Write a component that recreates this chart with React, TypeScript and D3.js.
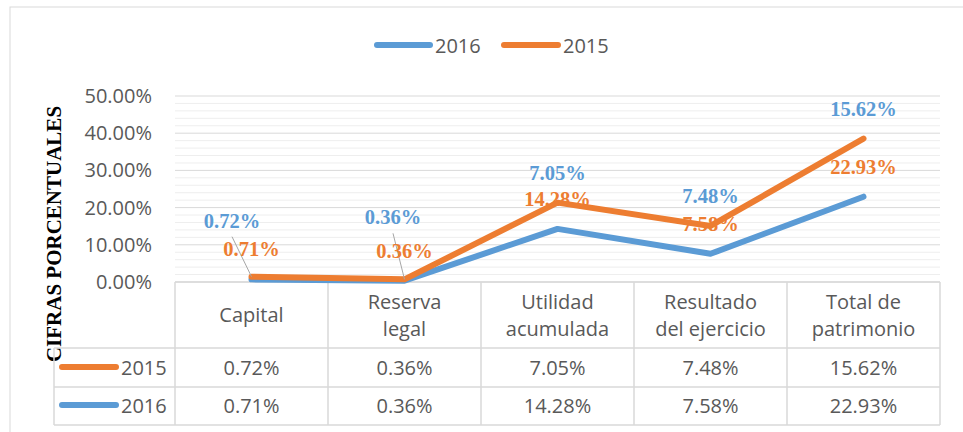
import React from "react";
import * as d3 from "d3";

const categories: string[][] = [
  ["Capital"],
  ["Reserva", "legal"],
  ["Utilidad", "acumulada"],
  ["Resultado", "del ejercicio"],
  ["Total de", "patrimonio"],
];
const values2015 = [0.72, 0.36, 7.05, 7.48, 15.62];
const values2016 = [0.71, 0.36, 14.28, 7.58, 22.93];
const yTicks = [0, 10, 20, 30, 40, 50];
const seriesNames = ["2016", "2015"];

const W = 963;
const H = 432;
const BLUE = "#5B9BD5";
const ORANGE = "#ED7D31";
const TXT = "#595959";
const GRID = "#d9d9d9";
const SANS = "'Open Sans', 'Noto Sans', sans-serif";
const SERIF = "'Liberation Serif', 'Times New Roman', serif";

// manual label nudges for the first two (pulled out with leader lines)
const blueLabelShift = [
  { dx: -19.5, dy: -26 },
  { dx: -11.5, dy: -32 },
  { dx: 0, dy: 0 },
  { dx: 0, dy: 0 },
  { dx: 0, dy: 0 },
];

export default function App() {
  const plotL = 175;
  const plotR = 940;
  const plotT = 96;
  const plotB = 282;
  const x = d3
    .scaleBand<number>()
    .domain(categories.map((_, i) => i))
    .range([plotL, plotR]);
  const y = d3.scaleLinear().domain([0, 50]).range([plotB, plotT]);
  const cx = (i: number) => (x(i) as number) + x.bandwidth() / 2;

  const stacked = values2016.map((v, i) => v + values2015[i]);
  const line = d3
    .line<number>()
    .x((_, i) => cx(i))
    .y((d) => y(d));

  const minorTicks = d3.range(0, 50.001, 2).filter((v) => v % 10 !== 0);

  const headerB = 348;
  const row1B = 387;
  const row2B = 425;
  const legL = 54;

  const fmt = (v: number) => v.toFixed(2) + "%";

  return (
    <svg
      width={W}
      height={H}
      style={{ position: "absolute", left: 0, top: 0, background: "#fff" }}
    >
      <rect x={0} y={0} width={W} height={H} fill="#fff" />
      <rect x={10} y={7} width={W + 20} height={H + 20} fill="#fff" stroke={GRID} strokeWidth={1} />

      {/* top legend */}
      <g fontFamily={SANS} fontSize={20} fill={TXT}>
        <line x1={377} x2={430} y1={45} y2={45} stroke={BLUE} strokeWidth={6} strokeLinecap="round" />
        <text x={435} y={53}>{seriesNames[0]}</text>
        <line x1={504} x2={558} y1={45} y2={45} stroke={ORANGE} strokeWidth={6} strokeLinecap="round" />
        <text x={563} y={53}>{seriesNames[1]}</text>
      </g>

      {/* gridlines */}
      {minorTicks.map((t) => (
        <line key={"m" + t} x1={plotL} x2={plotR} y1={y(t)} y2={y(t)} stroke="#eeeeee" strokeWidth={1} />
      ))}
      {yTicks.map((t) => (
        <line key={"g" + t} x1={plotL} x2={plotR} y1={y(t)} y2={y(t)} stroke={GRID} strokeWidth={1} />
      ))}

      {/* y tick labels */}
      <g fontFamily={SANS} fontSize={20} fill={TXT} textAnchor="end">
        {yTicks.map((t) => (
          <text key={"t" + t} x={152} y={y(t)} dy="0.35em">
            {t.toFixed(2) + "%"}
          </text>
        ))}
      </g>

      {/* axis title */}
      <text
        transform={`translate(61,234) rotate(-90)`}
        textAnchor="middle"
        fontFamily={SERIF}
        fontWeight="bold"
        fontSize={21}
        fill="#000"
      >
        CIFRAS PORCENTUALES
      </text>

      {/* data table grid */}
      <g stroke={GRID} strokeWidth={1.5} fill="none">
        <line x1={plotL} x2={plotR} y1={plotB} y2={plotB} />
        <line x1={legL} x2={plotR} y1={headerB} y2={headerB} />
        <line x1={legL} x2={plotR} y1={row1B} y2={row1B} />
        <line x1={legL} x2={plotR} y1={row2B} y2={row2B} />
        <line x1={legL} x2={legL} y1={headerB} y2={row2B} />
        {categories.map((_, i) => (
          <line key={"v" + i} x1={x(i) as number} x2={x(i) as number} y1={plotB} y2={row2B} />
        ))}
        <line x1={plotR} x2={plotR} y1={plotB} y2={row2B} />
      </g>

      {/* table text */}
      <g fontFamily={SANS} fontSize={20} fill={TXT} textAnchor="middle">
        {categories.map((c, i) => {
          const mid = (plotB + headerB) / 2;
          const lh = 27;
          const start = mid - ((c.length - 1) * lh) / 2;
          return (
            <text key={"c" + i} x={cx(i)} y={start} dy="0.35em">
              {c.map((s, j) => (
                <tspan key={j} x={cx(i)} y={start + j * lh} dy="0.35em">
                  {s}
                </tspan>
              ))}
            </text>
          );
        })}
        {values2015.map((v, i) => (
          <text key={"a" + i} x={cx(i)} y={(headerB + row1B) / 2} dy="0.35em">
            {fmt(v)}
          </text>
        ))}
        {values2016.map((v, i) => (
          <text key={"b" + i} x={cx(i)} y={(row1B + row2B) / 2} dy="0.35em">
            {fmt(v)}
          </text>
        ))}
      </g>
      <g fontFamily={SANS} fontSize={20} fill={TXT}>
        <line x1={62} x2={116} y1={367} y2={367} stroke={ORANGE} strokeWidth={6} strokeLinecap="round" />
        <text x={121} y={(headerB + row1B) / 2} dy="0.35em">{seriesNames[1]}</text>
        <line x1={62} x2={116} y1={405} y2={405} stroke={BLUE} strokeWidth={6} strokeLinecap="round" />
        <text x={121} y={(row1B + row2B) / 2} dy="0.35em">{seriesNames[0]}</text>
      </g>

      {/* lines */}
      <path d={line(values2016) as string} fill="none" stroke={BLUE} strokeWidth={6} strokeLinecap="round" strokeLinejoin="round" />
      <path d={line(stacked) as string} fill="none" stroke={ORANGE} strokeWidth={6} strokeLinecap="round" strokeLinejoin="round" />

      {/* leader lines */}
      {stacked.map((v, i) => {
        const s = blueLabelShift[i];
        if (s.dx === 0 && s.dy === 0) return null;
        const lx = cx(i) + s.dx;
        const ly = y(v) - 23 + s.dy + 9;
        return <line key={"l" + i} x1={lx} y1={ly} x2={cx(i)} y2={y(v)} stroke="#a6a6a6" strokeWidth={1} />;
      })}

      {/* data labels */}
      <g fontFamily={SERIF} fontWeight="bold" fontSize={20.5} textAnchor="middle">
        {values2016.map((v, i) => (
          <text key={"ol" + i} x={cx(i)} y={y(v) - 23} fill={ORANGE}>
            {fmt(v)}
          </text>
        ))}
        {stacked.map((v, i) => (
          <text
            key={"bl" + i}
            x={cx(i) + blueLabelShift[i].dx}
            y={y(v) - 23 + blueLabelShift[i].dy}
            fill={BLUE}
          >
            {fmt(values2015[i])}
          </text>
        ))}
      </g>
    </svg>
  );
}
